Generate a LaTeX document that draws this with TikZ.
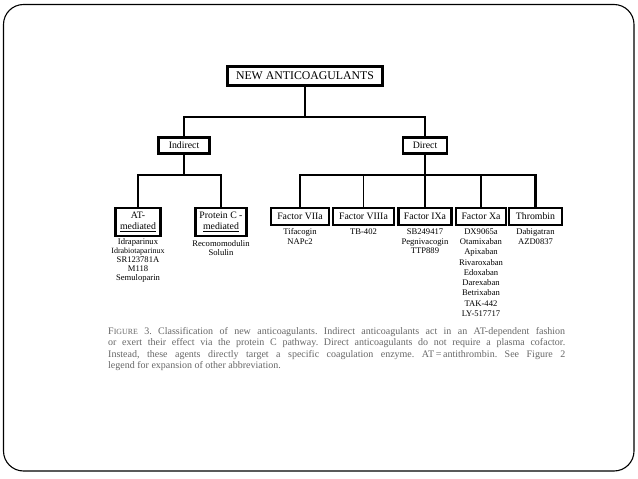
\documentclass[tikz,border=0pt]{standalone}
\usepackage{fontspec}
\setmainfont{Liberation Serif}
\definecolor{capgray}{HTML}{666666}
\begin{document}
\begin{tikzpicture}[x=1pt,y=-1pt,
  box/.style={draw=black,line width=2.2pt,inner sep=0pt,align=center,font=\fontsize{9.8}{10}\selectfont},
  conn/.style={line width=2.2pt},
  thinconn/.style={line width=1.2pt},
  drugs/.style={anchor=north,inner sep=0pt,align=center,font=\fontsize{8.6}{9.5}\selectfont}]
\useasboundingbox (0,0) rectangle (638,479);
\draw[line width=1.1pt,rounded corners=20pt] (3.5,4.5) rectangle (634,471);
% boxes
\node[box,minimum width=155pt,minimum height=19pt,font=\fontsize{11.8}{12}\selectfont] (title) at (305,76) {NEW ANTICOAGULANTS};
\node[box,minimum width=51pt,minimum height=16pt] (ind) at (184,145.5) {Indirect};
\node[box,minimum width=44pt,minimum height=16pt] (dir) at (425,145.5) {Direct};
\node[box,minimum width=45pt,minimum height=28pt,font=\fontsize{9.8}{11}\selectfont] (at) at (138,222) {AT-\\\underline{mediated}};
\node[box,minimum width=51pt,minimum height=28pt,font=\fontsize{9.8}{11}\selectfont] (pc) at (221,222) {Protein C -\\\underline{mediated}};
\node[box,minimum width=58pt,minimum height=17pt] (f7) at (300,216.5) {Factor VIIa};
\node[box,minimum width=61pt,minimum height=17pt] (f8) at (363.5,216.5) {Factor VIIIa};
\node[box,minimum width=53pt,minimum height=17pt] (f9) at (425,216.5) {Factor IXa};
\node[box,minimum width=50pt,minimum height=17pt] (f10) at (481,216.5) {Factor Xa};
\node[box,minimum width=53pt,minimum height=17pt] (thr) at (535.5,216.5) {Thrombin};
% connectors
\coordinate (j0) at (305,117);
\coordinate (j1) at (184,175);
\coordinate (j2) at (425,175);
\draw[conn] (title.south) -- (j0);
\draw[conn] (j0) -| (ind.north);
\draw[conn] (j0) -| (dir.north);
\draw[conn] (ind.south) -- (j1);
\draw[conn] (j1) -| (at.north);
\draw[conn] (j1) -| (pc.north);
\draw[conn] (dir.south) -- (j2);
\draw[conn] (j2) -| (f7.north);
\draw[conn] (j2) -| (thr.north);
\draw[conn] (j2) -- (f9.north);
\draw[thinconn] (f8.north) -- (f8.north |- j2);
\draw[conn] (f10.north) -- (f10.north |- j2);
% drug lists
\node[drugs,font=\fontsize{8.6}{9.2}\selectfont] (atd) at (138,238) {Idraparinux\\{\fontsize{8}{9.2}\selectfont Idrabiotaparinux}\\SR123781A\\M118\\Semuloparin};
\node[drugs] (pcd) at (221,240) {Recomomodulin\\Solulin};
\node[drugs] (f7d) at (300,228.5) {Tifacogin\\NAPc2};
\node[drugs] (f8d) at (363.5,228.5) {TB-402};
\node[drugs,font=\fontsize{8.6}{9.8}\selectfont] (f9d) at (425,228.5) {SB249417\\Pegnivacogin\\TTP889};
\node[drugs,font=\fontsize{8.6}{10.25}\selectfont] (f10d) at (481,228.5) {DX9065a\\Otamixaban\\Apixaban\\Rivaroxaban\\Edoxaban\\Darexaban\\Betrixaban\\TAK-442\\LY-517717};
\node[drugs] (thrd) at (535.5,228.5) {Dabigatran\\AZD0837};
% caption
\node[anchor=north west,inner sep=0pt,text width=457pt,align=justify,text=capgray,font=\fontsize{10}{11.5}\selectfont\frenchspacing] (cap) at (108,327) {F{\fontsize{7.9}{9}\selectfont IGURE} 3. Classification of new anticoagulants. Indirect anticoagulants act in an AT-dependent fashion\linebreak or exert their effect via the protein C pathway. Direct anticoagulants do not require a plasma cofactor.\linebreak Instead, these agents directly target a specific coagulation enzyme. AT\,=\,antithrombin. See Figure 2\linebreak legend for expansion of other abbreviation.};
\end{tikzpicture}
\end{document}
